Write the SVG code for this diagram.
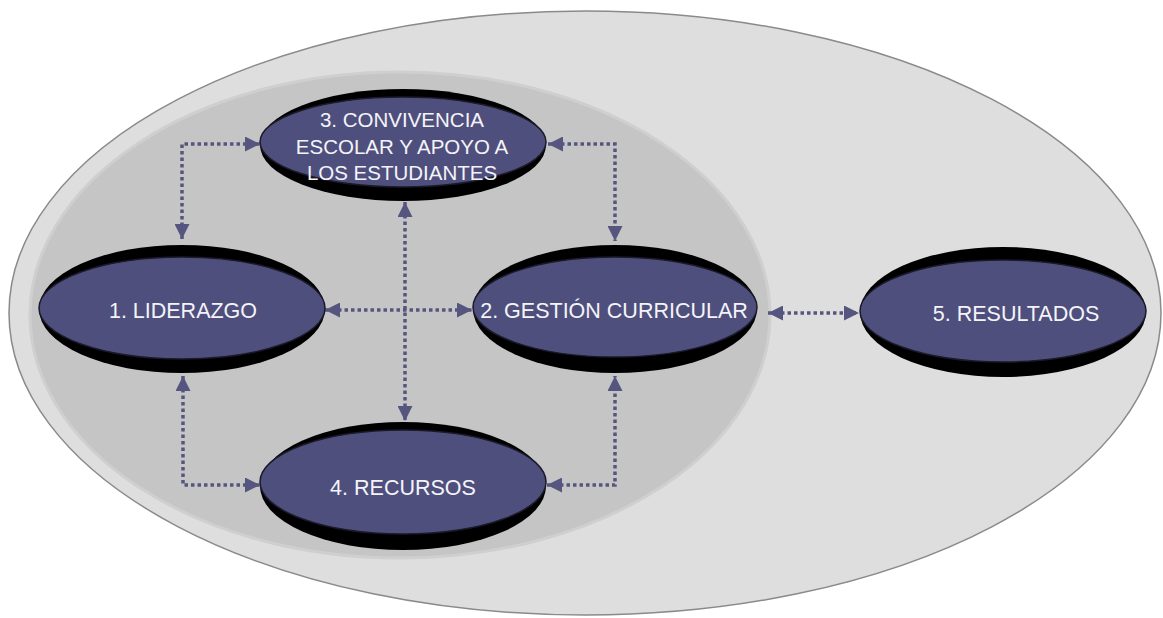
<svg xmlns="http://www.w3.org/2000/svg" width="1163" height="618" viewBox="0 0 1163 618">
<defs>
<style>
.shadow{fill:#000000}
.node{fill:#4f4f7d;stroke:#1a1a2a;stroke-width:1.5}
.lbl{font-family:"Liberation Sans","DejaVu Sans",sans-serif;font-size:21.5px;fill:#f4f4f8;text-anchor:middle}
.lbl3{font-size:20.5px}
.conn{fill:none;stroke:#55557f;stroke-width:3.5;stroke-dasharray:3.5 3;marker-start:url(#arr);marker-end:url(#arr)}
</style>
<marker id="arr" viewBox="0 0 10 10" refX="10" refY="5" markerWidth="15" markerHeight="15" markerUnits="userSpaceOnUse" orient="auto-start-reverse">
<path d="M0,0 L10,5 L0,10 z" fill="#55557f"/>
</marker>
</defs>
<rect width="1163" height="618" fill="#ffffff"/>
<g id="background">
<ellipse cx="585" cy="313" rx="576" ry="302" fill="#dedede" stroke="#8a8a8a" stroke-width="1.5"/>
<ellipse cx="400" cy="315" rx="370" ry="243" fill="#c5c5c5" stroke="#cfcfcf" stroke-width="3"/>
</g>
<g id="connectors">
<polyline class="conn" points="182,239 182,144 260,144"/>
<polyline class="conn" points="548,144 615,144 615,241"/>
<polyline class="conn" points="183,376 183,485 260,485"/>
<polyline class="conn" points="547,485 615,485 615,376"/>
<line class="conn" x1="405" y1="202" x2="405" y2="421"/>
<line class="conn" x1="325" y1="310" x2="472" y2="310"/>
<line class="conn" x1="768" y1="313" x2="859" y2="313"/>
</g>
<g id="node3">
<ellipse class="shadow" cx="403" cy="145" rx="143" ry="56"/>
<ellipse class="node" cx="403" cy="142" rx="143" ry="45"/>
<text class="lbl lbl3" x="402"><tspan x="402" y="127">3. CONVIVENCIA</tspan><tspan x="402" y="154">ESCOLAR Y APOYO A</tspan><tspan x="402" y="180">LOS ESTUDIANTES</tspan></text>
</g>
<g id="node1">
<ellipse class="shadow" cx="182" cy="309" rx="143" ry="64"/>
<ellipse class="node" cx="182" cy="308" rx="143" ry="51"/>
<text class="lbl" x="183" y="318">1. LIDERAZGO</text>
</g>
<g id="node2">
<ellipse class="shadow" cx="615" cy="309" rx="142" ry="64"/>
<ellipse class="node" cx="615" cy="307" rx="142" ry="50"/>
<text class="lbl" x="614" y="318">2. GESTIÓN CURRICULAR</text>
</g>
<g id="node4">
<ellipse class="shadow" cx="403" cy="486" rx="143" ry="64"/>
<ellipse class="node" cx="403" cy="482" rx="143" ry="52"/>
<text class="lbl" x="403" y="495">4. RECURSOS</text>
</g>
<g id="node5">
<ellipse class="shadow" cx="1003" cy="312" rx="143" ry="65"/>
<ellipse class="node" cx="1003" cy="311" rx="143" ry="51"/>
<text class="lbl" x="1016" y="321">5. RESULTADOS</text>
</g>
</svg>
